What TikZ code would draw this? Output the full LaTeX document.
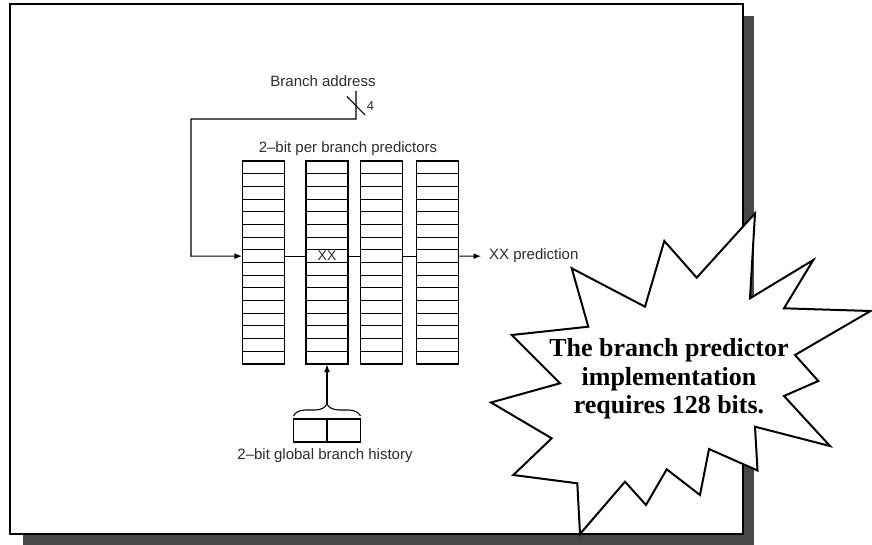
\documentclass[tikz,border=0pt]{standalone}
\usepackage{fontspec}
\setmainfont{Liberation Serif}
\newfontfamily\diafont{Liberation Sans}
\usetikzlibrary{arrows.meta,decorations.pathreplacing}
\definecolor{shadowgray}{RGB}{72,72,72}
\definecolor{labelgray}{RGB}{45,45,45}
\begin{document}
\begin{tikzpicture}[x=1pt,y=-1pt,
  cell/.style={draw, line width=1.1pt, rectangle, minimum width=42pt, minimum height=12.69pt, inner sep=0pt},
  histbox/.style={draw, line width=1.1pt, rectangle, minimum width=33.5pt, minimum height=23pt, inner sep=0pt},
  lbl/.style={font=\diafont\fontsize{15}{18}\selectfont, text=labelgray, inner sep=0pt},
  sig/.style={line width=1.1pt},
  sigarrow/.style={sig, -{Latex[length=7.5pt,width=6pt]}},
  burst/.style={line width=2pt, fill=white, line join=miter},
  bursttext/.style={font=\bfseries\fontsize{26}{28.5}\selectfont, align=center, inner sep=0pt}
]
\useasboundingbox (0,0) rectangle (872,545);
% page frame with shadow
\fill[shadowgray] (22.7,15.6) rectangle (754,545);
\draw[line width=1.2pt, fill=white] (10,4) rectangle (743,534);

% predictor columns
\foreach \c/\x in {1/263.5,2/327,3/381.7,4/437.7}{
  \foreach \r in {1,...,16}{
    \node[cell] (cell-\c-\r) at (\x,{161+(\r-0.5)*12.6875}) {};
  }
}
\node[lbl, font=\diafont\fontsize{14}{16}\selectfont] (xx) at (cell-2-8) {XX};

% labels
\node[lbl] (ba) at (323,81) {Branch address};
\node[lbl] (pbp) at (348,149) {2–bit per branch predictors};
\node[lbl, font=\diafont\fontsize{13}{15}\selectfont] (four) at (370.5,106) {4};
\node[lbl, anchor=west] (pred) at (489,256) {XX prediction};
\node[lbl] (hist) at (325,456) {2–bit global branch history};

% branch address path
\coordinate (top) at (356,91);
\coordinate (bend) at (356,119);
\coordinate (corner) at (191,256.2);
\draw[sigarrow] (top) -- (bend) -| (corner) -- (cell-1-8.west);
\draw[sig] (347,96.5) -- (365,115);

% row connectors
\draw[sig] (cell-1-8.east) -- (cell-2-8.west);
\draw[sig] (cell-2-8.east) -- (cell-3-8.west);
\draw[sig] (cell-3-8.east) -- (cell-4-8.west);
\coordinate (outp) at (481,256.2);
\draw[sigarrow] (cell-4-8.east) -- (outp);

% global history
\node[histbox] (h1) at (310.2,430.5) {};
\node[histbox] (h2) at (343.7,430.5) {};
\draw[sig, decorate, decoration={brace, amplitude=12pt}] (293.4,416) -- (360.5,416);
\coordinate (bt) at (327,404);
\draw[sigarrow] (bt) -- (cell-2-16.south);

% starburst callout
\draw[burst] (571.7,268.3) -- (645,306.7) -- (664.3,241) -- (696.7,277.7)
  -- (755,213.3) -- (750,298.3) -- (813.3,260) -- (784,308.3)
  -- (870.5,311) -- (795,355) -- (818.3,381) -- (784,396)
  -- (830,446) -- (755,426.7) -- (757.5,470.5) -- (709,449)
  -- (700,495) -- (666.7,469.3) -- (646,505) -- (625,481.7)
  -- (580,534) -- (577.3,483.3) -- (513.3,475) -- (551.7,438.3)
  -- (491,402.5) -- (560,383.3) -- (511.7,335) -- (588.3,326.7) -- cycle;
\node[bursttext] (note) at (669,379) {The branch predictor\\implementation\\requires 128 bits.};
\end{tikzpicture}
\end{document}
